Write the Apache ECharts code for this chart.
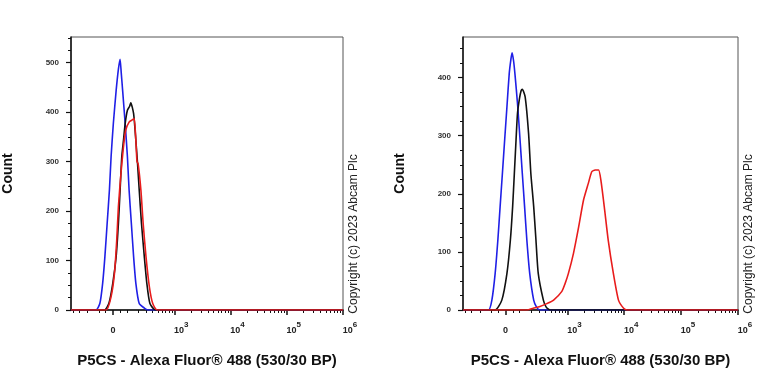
<!DOCTYPE html>
<html>
<head>
<meta charset="utf-8">
<script src="https://cdn.jsdelivr.net/npm/echarts@6/dist/echarts.min.js"></script>
<style>
html,body{margin:0;padding:0;background:#fff;}
#chart{width:768px;height:384px;}
</style>
</head>
<body>
<div id="chart"></div>
<script>
// ---- axis / tick data (raw fluorescence values, biexponential display) ----
const BIEX_C = 81.8;                 // width of the linear region of the biexponential display
const xMinRaw = -440;
const xMaxRaw = 1e6;
const majorTickRaw = [0, 1e3, 1e4, 1e5, 1e6];
const majorTickText = ['{b|0}', '{p|10}{sup|3}', '{p|10}{sup|4}', '{p|10}{sup|5}', '{p|10}{sup|6}'];
const minorTickRaw = [-400, -300, -200, -100, -50, 50, 100, 200, 300, 400, 500, 600, 700, 800, 900,
  2e3, 3e3, 4e3, 5e3, 6e3, 7e3, 8e3, 9e3,
  2e4, 3e4, 4e4, 5e4, 6e4, 7e4, 8e4, 9e4,
  2e5, 3e5, 4e5, 5e5, 6e5, 7e5, 8e5, 9e5];

const xTitle = 'P5CS - Alexa Fluor® 488 (530/30 BP)';
const yTitle = 'Count';
const copyrightText = 'Copyright (c) 2023 Abcam Plc';

const leftYMax = 552;
const rightYMax = 470;
const yMajorTicks = [0, 100, 200, 300, 400, 500];

// ---- histogram series: [display position (decades), count] ----
const leftBlue = [[1.17,0],[1.61,0],[1.68,13],[1.73,54],[1.77,108],[1.81,175],[1.85,242],[1.88,310],[1.92,377],[1.97,444],[2.01,487],[2.04,507],[2.06,480],[2.085,444],[2.13,377],[2.17,310],[2.20,242],[2.24,175],[2.28,108],[2.32,54],[2.38,13],[2.47,4],[2.53,0],[6,0]];
const leftBlack = [[1.17,0],[1.76,0],[1.84,13],[1.91,54],[1.97,108],[2.01,175],[2.04,242],[2.07,310],[2.10,343],[2.13,377],[2.17,404],[2.21,412],[2.23,419],[2.28,397],[2.32,343],[2.35,296],[2.38,242],[2.42,175],[2.47,108],[2.515,54],[2.57,13],[2.67,0],[6,0]];
const leftRed = [[1.17,0],[1.79,0],[1.88,27],[1.94,74],[1.98,141],[2.01,209],[2.055,276],[2.10,330],[2.14,364],[2.20,380],[2.25,384],[2.29,387],[2.32,343],[2.34,300],[2.36,296],[2.41,242],[2.45,175],[2.50,108],[2.56,47],[2.62,13],[2.70,0],[6,0]];

const rightBlue = [[1.17,0],[1.615,0],[1.675,17],[1.733,63],[1.78,120],[1.82,178],[1.86,235],[1.90,293],[1.94,350],[1.98,407],[2.01,432],[2.03,443],[2.055,430],[2.08,407],[2.13,350],[2.17,293],[2.21,235],[2.25,178],[2.29,120],[2.34,63],[2.41,17],[2.46,5],[2.52,0],[6,0]];
const rightBlack = [[1.17,0],[1.73,0],[1.85,17],[1.94,63],[2.00,120],[2.04,178],[2.07,235],[2.10,293],[2.125,338],[2.16,364],[2.19,378],[2.21,380],[2.26,367],[2.32,304],[2.36,235],[2.41,178],[2.45,120],[2.49,63],[2.58,17],[2.63,5],[2.70,0],[6,0]];
const rightRed = [[1.17,0],[2.29,0],[2.40,3],[2.52,6],[2.64,11],[2.76,17],[2.905,32],[2.96,45],[3.02,63],[3.11,98],[3.20,143],[3.285,189],[3.37,218],[3.43,238],[3.49,241],[3.55,241],[3.59,224],[3.65,178],[3.72,120],[3.81,63],[3.90,17],[3.99,3],[4.05,0],[6,0]];

// ---- helpers ----
function biex(v) { return Math.log10((v + Math.sqrt(v * v + 4 * BIEX_C * BIEX_C)) / 2); }
const xMinDisplay = biex(xMinRaw);
const xMaxDisplay = biex(xMaxRaw);
const majorTickPos = majorTickRaw.map(v => Math.min(biex(v), xMaxDisplay));
const minorTickPos = minorTickRaw.map(biex);
function majorLabel(val) {
  let best = 0, bd = Infinity;
  majorTickPos.forEach((p, i) => { const d = Math.abs(p - val); if (d < bd) { bd = d; best = i; } });
  return majorTickText[best];
}
function range(a, b, s) { const r = []; for (let v = a; v <= b + 1e-9; v += s) r.push(v); return r; }

const FONT = 'Liberation Sans, Arial, sans-serif';
const grids = [
  { left: 70, top: 37, width: 273, height: 273 },
  { left: 463, top: 37, width: 275, height: 273 }
];
const yMaxes = [leftYMax, rightYMax];
const seriesSets = [[leftBlue, leftBlack, leftRed], [rightBlue, rightBlack, rightRed]];
const colors = ['#1f1fe6', '#111111', '#e81c1c'];

const labelBase = { fontSize: 9, lineHeight: 14, verticalAlign: 'bottom', fontWeight: 'bold', color: '#222', fontFamily: FONT };

const xAxes = [], yAxes = [], series = [];
grids.forEach((g, gi) => {
  xAxes.push({
    type: 'value', gridIndex: gi, min: xMinDisplay, max: xMaxDisplay, position: 'bottom',
    axisLine: { show: true, onZero: false, lineStyle: { color: '#111', width: 1.5 } },
    axisTick: { show: true, customValues: majorTickPos, length: 5, lineStyle: { color: '#111', width: 1.5 } },
    axisLabel: {
      show: true, customValues: majorTickPos, formatter: majorLabel, margin: 11,
      showMinLabel: true, showMaxLabel: true, hideOverlap: false,
      lineHeight: 14, color: '#222', fontFamily: FONT,
      rich: {
        b: Object.assign({}, labelBase),
        p: Object.assign({}, labelBase, { padding: [0, 0, 0, 14] }),
        sup: { fontSize: 8, lineHeight: 14, verticalAlign: 'top', fontWeight: 'bold', color: '#222', fontFamily: FONT }
      }
    },
    splitLine: { show: false },
    name: xTitle, nameLocation: 'middle', nameGap: 43,
    nameTextStyle: { fontSize: 15, fontWeight: 'bold', color: '#111', fontFamily: FONT }
  });
  xAxes.push({
    type: 'value', gridIndex: gi, min: xMinDisplay, max: xMaxDisplay, position: 'bottom',
    axisLine: { show: false, onZero: false },
    axisTick: { show: true, customValues: minorTickPos, length: 3, lineStyle: { color: '#111', width: 1 } },
    axisLabel: { show: false },
    splitLine: { show: false }
  });
  yAxes.push({
    type: 'value', gridIndex: gi, min: 0, max: yMaxes[gi], position: 'left',
    axisLine: { show: true, onZero: false, lineStyle: { color: '#111', width: 1.5 } },
    axisTick: { show: true, customValues: yMajorTicks.filter(v => v <= yMaxes[gi]), length: 5, lineStyle: { color: '#111', width: 1.2 } },
    axisLabel: { show: true, customValues: yMajorTicks.filter(v => v <= yMaxes[gi]), margin: 12, fontSize: 8, fontWeight: 'bold', color: '#333', fontFamily: FONT },
    splitLine: { show: false },
    name: yTitle, nameLocation: 'middle', nameGap: 56, nameRotate: 90,
    nameTextStyle: { fontSize: 14, fontWeight: 'bold', color: '#111', fontFamily: FONT }
  });
  yAxes.push({
    type: 'value', gridIndex: gi, min: 0, max: yMaxes[gi], position: 'left', offset: 0,
    axisLine: { show: false, onZero: false },
    axisTick: { show: true, customValues: range(0, yMaxes[gi], 25).filter(v => v % 100 !== 0), length: 3, lineStyle: { color: '#111', width: 1 } },
    axisLabel: { show: false },
    splitLine: { show: false }
  });
  seriesSets[gi].forEach((data, si) => {
    series.push({
      type: 'line', xAxisIndex: gi * 2, yAxisIndex: gi * 2, data: data,
      showSymbol: false, smooth: 0.2, silent: true,
      lineStyle: { color: colors[si], width: 1.6 },
      z: 2 + si
    });
  });
});

const chart = echarts.init(document.getElementById('chart'), null, { renderer: 'canvas' });
chart.setOption({
  animation: false,
  backgroundColor: '#ffffff',
  grid: grids.map(g => Object.assign({ show: true, borderColor: '#555', borderWidth: 1, backgroundColor: 'transparent' }, g)),
  xAxis: xAxes,
  yAxis: yAxes,
  series: series,
  graphic: [354, 749].map(x => ({
    type: 'text', x: x, y: 234, rotation: Math.PI / 2,
    style: { text: copyrightText, fontSize: 12, fontFamily: FONT, fill: '#222', textAlign: 'center', textVerticalAlign: 'middle' }
  }))
});
</script>
</body>
</html>
